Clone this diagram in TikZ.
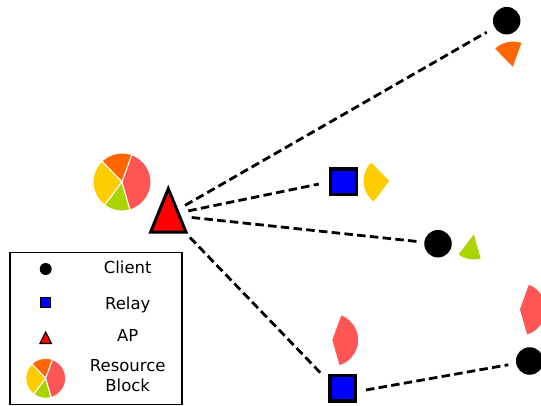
\documentclass[tikz,border=0pt]{standalone}
\usepackage{fontspec}
\setmainfont{DejaVu Sans}
\definecolor{rbOrange}{HTML}{FF6600}
\definecolor{rbYellow}{HTML}{FFCC00}
\definecolor{rbGreen}{HTML}{AAD400}
\definecolor{rbRed}{HTML}{FF5555}
\newcommand{\rbwedge}[5]{% colour, apex, start, end, radius
  \filldraw[fill=#1, draw=white, line width=1pt] (#2) -- ++(#3:#5) arc[start angle=#3, end angle=#4, radius=#5] -- cycle;}
\newcommand{\rbpie}[2]{% centre, radius
  \rbwedge{rbOrange}{#1}{70}{134}{#2}
  \rbwedge{rbYellow}{#1}{134}{233}{#2}
  \rbwedge{rbGreen}{#1}{233}{286}{#2}
  \rbwedge{rbRed}{#1}{-74}{70}{#2}}
\tikzset{
  client/.style={circle, fill=black, inner sep=0pt, minimum size=27.5pt},
  relay/.style={rectangle, draw=black, line width=3.3pt, fill=blue, inner sep=0pt, minimum size=25.7pt},
  rblink/.style={draw=black, line width=2.8pt, dash pattern=on 8.5pt off 4.3pt},
  legtext/.style={anchor=base, font=\fontsize{16.5}{20}\selectfont, inner sep=0pt}
}
\begin{document}
\begin{tikzpicture}[x=1pt, y=1pt]
\useasboundingbox (0,0) rectangle (541,405);
\clip (0,0) rectangle (541,405);

% resource block pie next to the AP
\rbpie{122,223}{29}

% nodes
\node[client] (c1) at (506.7,384.3) {};
\node[relay]  (r1) at (343.3,223) {};
\node[client] (c2) at (438,161.3) {};
\node[relay]  (r2) at (342.8,17) {};
\node[client] (c3) at (529.7,44) {};
\node[inner sep=0pt, minimum width=35pt, minimum height=43pt] (ap) at (168.3,194.6) {};
\draw[fill=red, line width=3pt, line join=miter] (ap.south west) -- (ap.north) -- (ap.south east) -- cycle;
\coordinate (apo) at (168.3,190);

% allocated resource blocks
\rbwedge{rbOrange}{513,337}{70}{134}{27}
\rbwedge{rbYellow}{390,224}{134}{233}{27}
\rbwedge{rbGreen}{474,172}{233}{286}{27}
\rbwedge{rbRed}{331.7,65}{-74}{70}{27}
\rbwedge{rbRed}{519.3,95.7}{-74}{70}{27}

% links
\draw[rblink, shorten <=19.3pt, shorten >=23.1pt] (apo) -- (c1.center);
\draw[rblink, shorten <=20.4pt, shorten >=10.2pt] (apo) -- (r1.west);
\draw[rblink, shorten <=23.5pt, shorten >=21.4pt] (apo) -- (c2.center);
\draw[rblink, shorten <=31.2pt, shorten >=10.9pt] (apo) -- ([yshift=7pt]r2.west);
\draw[rblink, shorten <=8.8pt, shorten >=21.7pt] ([yshift=-3.5pt]r2.east) -- (c3.center);

% legend
\node[draw=black, line width=1.2pt, inner sep=0pt, minimum width=172pt, minimum height=152pt] (legend) at (96,76.7) {};
\node[circle, fill=black, inner sep=0pt, minimum size=12pt] (lc) at (45.7,136) {};
\node[rectangle, draw=black, line width=1pt, fill=blue, inner sep=0pt, minimum size=10pt] (lr) at (45.7,102.7) {};
\node[inner sep=0pt, minimum width=11pt, minimum height=11pt] (lap) at (45.7,67.3) {};
\draw[fill=red, line width=1.2pt, line join=miter] (lap.south west) -- (lap.north) -- (lap.south east) -- cycle;
\rbpie{45.7,26.7}{20}
\node[legtext] (tc) at (127.7,131.7) {Client};
\node[legtext] (tr) at (127.7,96) {Relay};
\node[legtext] (ta) at (127.7,63.3) {AP};
\node[legtext] (tres) at (127.7,33.3) {Resource};
\node[legtext] (tblk) at (127.7,13.3) {Block};
\end{tikzpicture}
\end{document}
